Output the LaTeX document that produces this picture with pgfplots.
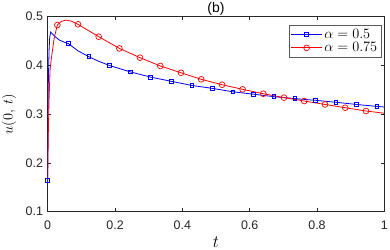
\documentclass[border=0pt]{standalone}
\usepackage{pgfplots}
\pgfplotsset{compat=1.18}
\usepackage{fontspec}
\setmainfont{Liberation Sans}
\usetikzlibrary{calc}
\definecolor{axgray}{rgb}{0.15,0.15,0.15}
\definecolor{lgdgray}{rgb}{0.35,0.35,0.35}
\begin{document}
\begin{tikzpicture}
\begin{axis}[
  scale only axis,
  width=336.6bp, height=195bp,
  xmin=0, xmax=1, ymin=0.1, ymax=0.5,
  xtick={0,0.2,0.4,0.6,0.8,1},
  ytick={0.1,0.2,0.3,0.4,0.5},
  xticklabels={0,0.2,0.4,0.6,0.8,1},
  yticklabels={0.1,0.2,0.3,0.4,0.5},
  tick align=inside,
  major tick length=3.4bp,
  axis line style={axgray, line width=0.5bp},
  tick style={axgray, line width=0.5bp},
  tick label style={font=\fontsize{12.5}{14}\selectfont, text=axgray},
  xticklabel style={yshift=-5.5bp},
  yticklabel style={xshift=-1.2bp},
  xlabel={$t$},
  ylabel={$u(0,\,t)$},
  xlabel style={font=\fontsize{16}{18}\selectfont, at={(axis description cs:0.5,-0.1554)}, anchor=center},
  ylabel style={font=\fontsize{15}{17}\selectfont, at={(axis description cs:-0.115,0.5)}, anchor=center, inner sep=0pt},
  every axis title shift=0pt,
  title={(b)},
  title style={font=\fontsize{14}{16}\selectfont, at={(axis description cs:0.5,1.0385)}, anchor=center, inner sep=0pt},
  legend style={at={(0.990,0.957)}, anchor=north east, draw=lgdgray, fill=white,
    font=\fontsize{13.5}{15}\selectfont, inner sep=1.5bp, row sep=-1bp,
    cells={anchor=west}},
  legend image code/.code={\draw[mark indices={2}] plot coordinates {(0cm,0cm) (0.54cm,0cm) (1.08cm,0cm)};},
]
\addplot[blue, line width=0.8bp, mark=square, mark size=1.9bp, mark options={solid, line width=0.7bp},
  mark indices={1,11,13,15,16,17,18,19,20,21,22,23,24,25,26,27,28}]
coordinates {
(0,0.1636) (0.001,0.30) (0.002,0.37) (0.004,0.43) (0.006,0.458) (0.009,0.4686)
(0.015,0.464) (0.022,0.459) (0.035,0.452) (0.048,0.448)
(0.061,0.445) (0.09,0.430) (0.122,0.418) (0.15,0.409) (0.183,0.400)
(0.2445,0.387) (0.306,0.376) (0.367,0.3675) (0.428,0.359) (0.489,0.353)
(0.550,0.346) (0.611,0.341) (0.672,0.336) (0.734,0.332) (0.795,0.3285)
(0.856,0.3245) (0.917,0.320) (0.978,0.316) (1.0,0.3148)
};
\addlegendentry{$\alpha = 0.5$}
\addplot[red, line width=0.8bp, mark=o, mark size=2.9bp, mark options={solid, line width=0.7bp},
  mark indices={9,13,15,16,17,18,19,20,21,22,23,24,25,26,27,28}]
coordinates {
(0,0.165) (0.001,0.22) (0.002,0.267) (0.004,0.329) (0.007,0.39) (0.010,0.41)
(0.014,0.43) (0.019,0.455) (0.0286,0.483) (0.04,0.490) (0.053,0.493) (0.07,0.491)
(0.090,0.4844) (0.12,0.472) (0.1515,0.459) (0.213,0.435) (0.274,0.416)
(0.3345,0.399) (0.396,0.385) (0.456,0.3716) (0.518,0.3605) (0.579,0.351)
(0.6405,0.342) (0.702,0.334) (0.762,0.327) (0.824,0.320) (0.884,0.3133)
(0.9456,0.3066) (1.0,0.302)
};
\addlegendentry{$\alpha = 0.75$}
\coordinate (bl) at (rel axis cs:0,0);
\coordinate (tr) at (rel axis cs:1,1);
\end{axis}
\pgfresetboundingbox
\path[use as bounding box] ($(bl)+(-47.7bp,-38.3bp)$) rectangle ($(tr)+(5.7bp,16.7bp)$);
\end{tikzpicture}
\end{document}
